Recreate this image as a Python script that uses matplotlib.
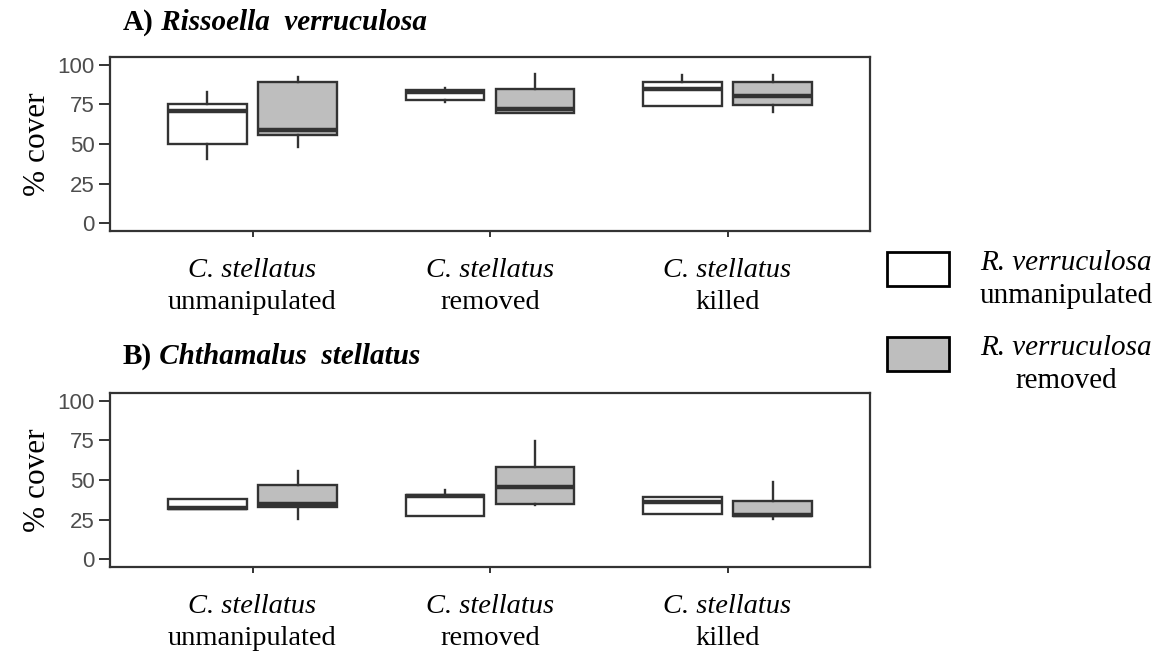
import matplotlib
matplotlib.use("Agg")
import matplotlib.pyplot as plt
from matplotlib.patches import Rectangle

# Tratamentos (eixo x)
grupos = ["unmanipulated", "removed", "killed"]

# A) Rissoella verruculosa - R. verruculosa unmanipulated (branco)
a_bra_q1 = [50, 78, 74]
a_bra_med = [71, 83, 84.5]
a_bra_q3 = [75, 84, 89]
a_bra_lo = [40.5, 76.5, 74]
a_bra_hi = [83, 85.5, 93.5]
# A) R. verruculosa removed (cinza)
a_cin_q1 = [55.5, 69.5, 74.5]
a_cin_med = [59, 72, 80.5]
a_cin_q3 = [89.5, 85, 89]
a_cin_lo = [48, 69.5, 70.5]
a_cin_hi = [92.5, 94, 93.5]

# B) Chthamalus stellatus
b_bra_q1 = [31.5, 27.5, 28.5]
b_bra_med = [32, 40, 36]
b_bra_q3 = [38, 40.5, 39]
b_bra_lo = [31.5, 27.5, 28.5]
b_bra_hi = [38, 43.5, 39]
b_cin_q1 = [33, 35, 27.5]
b_cin_med = [35, 45.5, 28]
b_cin_q3 = [47, 58.5, 36.5]
b_cin_lo = [25.5, 34, 25.5]
b_cin_hi = [55.5, 74.5, 49]

yticks = [0, 25, 50, 75, 100]

W, H = 1167, 657
fig = plt.figure(figsize=(W / 100, H / 100), dpi=100)
SERIF = "Liberation Serif"
SANS = "Liberation Sans"
ESCURO = "#333333"


def stats(q1, med, q3, lo, hi):
    return [dict(q1=a, med=m, q3=b, whislo=l, whishi=h, fliers=[])
            for a, m, b, l, h in zip(q1, med, q3, lo, hi)]


def painel(top_px, bra, cin):
    ax = fig.add_axes([110 / W, 1 - (top_px + 174) / H, 760 / W, 174 / H])
    x = range(1, len(grupos) + 1)
    for dados, dx, cor in [(bra, -0.19, "white"), (cin, 0.19, "#BEBEBE")]:
        ax.bxp(stats(*dados), positions=[i + dx for i in x], widths=0.33,
               showcaps=False, showfliers=False, patch_artist=True,
               boxprops=dict(facecolor=cor, edgecolor=ESCURO, linewidth=1.7),
               whiskerprops=dict(color=ESCURO, linewidth=1.7),
               medianprops=dict(color=ESCURO, linewidth=3.2),
               manage_ticks=False)
    ax.set_xlim(0.4, 3.6)
    ax.set_ylim(-5, 105)
    ax.set_yticks(yticks)
    ax.set_yticklabels([str(v) for v in yticks], fontfamily=SANS,
                       fontsize=16, color="#4D4D4D")
    ax.set_xticks(list(x))
    ax.set_xticklabels([])
    ax.tick_params(axis="y", length=8, width=1.4, color=ESCURO, pad=3)
    ax.tick_params(axis="x", length=4, width=1.4, color=ESCURO)
    for s in ax.spines.values():
        s.set_color(ESCURO)
        s.set_linewidth(1.6)
    ax.set_ylabel("% cover", fontfamily=SERIF, fontsize=22.5, labelpad=4)
    # rótulos do eixo x em duas linhas (itálico + normal)
    for i, g in zip(x, grupos):
        ax.text(i, -0.225, "C. stellatus", transform=ax.get_xaxis_transform(),
                ha="center", va="center", fontfamily=SERIF, style="italic",
                fontsize=20.5)
        ax.text(i, -0.41, g, transform=ax.get_xaxis_transform(),
                ha="center", va="center", fontfamily=SERIF, fontsize=20.5)
    return ax


ax1 = painel(57, (a_bra_q1, a_bra_med, a_bra_q3, a_bra_lo, a_bra_hi),
             (a_cin_q1, a_cin_med, a_cin_q3, a_cin_lo, a_cin_hi))
ax2 = painel(393, (b_bra_q1, b_bra_med, b_bra_q3, b_bra_lo, b_bra_hi),
             (b_cin_q1, b_cin_med, b_cin_q3, b_cin_lo, b_cin_hi))

# Títulos dos painéis
for letra, nome, ypx in [("A)", "Rissoella  verruculosa", 30),
                         ("B)", "Chthamalus  stellatus", 364)]:
    t = fig.text(123 / W, 1 - ypx / H, letra, fontfamily=SERIF,
                 fontweight="bold", fontsize=21, va="baseline")
    ax1.annotate(" " + nome, xy=(1, 1 - ypx / H), xycoords=(t, "figure fraction"),
                 fontfamily=SERIF, fontweight="bold", style="italic",
                 fontsize=21, va="baseline", annotation_clip=False)

# Legenda manual
for y0, cor, l1, l2 in [(252, "white", "R. verruculosa", "unmanipulated"),
                        (337, "#BEBEBE", "R. verruculosa", "removed")]:
    fig.patches.append(Rectangle((887 / W, 1 - (y0 + 34) / H), 62 / W, 34 / H,
                                 transform=fig.transFigure, facecolor=cor,
                                 edgecolor="black", linewidth=2))
    fig.text(1066 / W, 1 - (y0 + 11) / H, l1, ha="center", va="center",
             fontfamily=SERIF, style="italic", fontsize=21)
    fig.text(1066 / W, 1 - (y0 + 44) / H, l2, ha="center", va="center",
             fontfamily=SERIF, fontsize=21)

fig.savefig("out.png", dpi=100)
